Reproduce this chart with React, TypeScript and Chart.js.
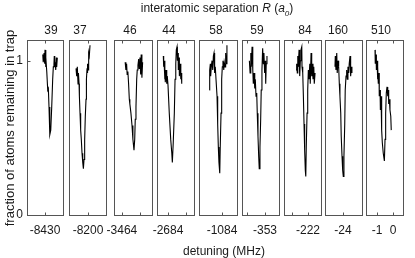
import React, { useEffect, useRef } from "react";
import { Chart, registerables } from "chart.js";

Chart.register(...registerables);

// ---------- DATA ----------
const separations = ["39", "37", "46", "44", "58", "59", "84", "160", "510"];
const centers = [-8430, -8200, -3464, -2684, -1084, -353, -222, -24, 0];
const tickOffsets = [[0], [0], [0, 1], [0, 1], [0], [-1, 0], [-1, 0], [0], [-1, 0]];
const tickLabels = [["-8430"], ["-8200"], ["-3464", ""], ["-2684", ""], ["-1084"], ["", "-353"], ["", "-222"], ["-24"], ["-1", "0"]];
const xMinOffsets = [-1.125, -1.19, -0.44, -0.61, -1.44, -1.28, -1.5, -1.125, -1.69];
const xMaxOffsets = [1.125, 1.125, 1.67, 1.44, 0.94, 0.78, 0.81, 1.19, 0.625];
const yTickValues = [0, 1];
const yMax = 1.134;

const trace39X = [-0.14, -0.11, -0.06, -0.02, 0.0, 0.04, 0.06, 0.11, 0.17, 0.21, 0.25, 0.29, 0.31, 0.36, 0.42, 0.48, 0.52, 0.56, 0.58, 0.61, 0.64, 0.67, 0.71, 0.73, 0.77];
const trace39Y = [1.04, 0.99, 1.05, 0.98, 1.07, 0.96, 1.02, 0.93, 0.81, 0.82, 0.7, 0.59, 0.52, 0.55, 0.7, 0.88, 0.96, 0.98, 1.03, 0.96, 0.99, 0.94, 1.02, 0.96, 1.02];

const trace37X = [-0.75, -0.71, -0.67, -0.625, -0.6, -0.56, -0.54, -0.5, -0.46, -0.42, -0.375, -0.33, -0.29, -0.25, -0.21, -0.17, -0.125, -0.1, -0.06, -0.04, -0.02, 0, 0.02, 0.04, 0.06, 0.08, 0.125];
const trace37Y = [0.95, 0.9, 0.96, 0.85, 0.92, 0.85, 0.77, 0.66, 0.55, 0.49, 0.4, 0.34, 0.3, 0.36, 0.49, 0.64, 0.75, 0.88, 0.95, 0.92, 0.98, 0.94, 1.02, 0.98, 1.05, 1.03, 1.1];

const trace46X = [0.18, 0.22, 0.26, 0.29, 0.33, 0.37, 0.41, 0.44, 0.5, 0.56, 0.61, 0.67, 0.71, 0.74, 0.78, 0.82, 0.85, 0.89, 0.93, 0.96, 1.0, 1.04, 1.07, 1.11, 1.15];
const trace46Y = [0.99, 0.94, 0.98, 0.91, 0.93, 0.85, 0.75, 0.72, 0.66, 0.58, 0.49, 0.42, 0.49, 0.62, 0.7, 0.88, 0.94, 0.97, 1.01, 0.95, 1.02, 0.91, 1.04, 0.89, 0.99];

const trace44X = [-0.26, -0.24, -0.22, -0.18, -0.17, -0.15, -0.11, -0.07, -0.04, 0, 0.07, 0.15, 0.21, 0.24, 0.29, 0.35, 0.39, 0.43, 0.46, 0.5, 0.52, 0.56, 0.57, 0.61, 0.63, 0.67, 0.71, 0.74, 0.76];
const trace44Y = [1.03, 0.96, 1.0, 0.88, 0.95, 0.86, 0.94, 0.85, 0.9, 0.84, 0.66, 0.49, 0.4, 0.34, 0.47, 0.66, 0.88, 0.98, 1.07, 1.09, 1.0, 1.05, 0.94, 1.02, 0.9, 0.98, 0.88, 0.92, 0.85];

const trace58X = [-0.79, -0.77, -0.73, -0.71, -0.67, -0.625, -0.58, -0.54, -0.5, -0.46, -0.42, -0.375, -0.31, -0.27, -0.23, -0.19, -0.14, -0.11, -0.06, -0.02, 0.02, 0.06, 0.11, 0.14, 0.19, 0.23, 0.27, 0.31];
const trace58Y = [0.81, 0.94, 0.98, 0.9, 0.96, 1.0, 0.94, 1.03, 1.05, 0.92, 0.96, 0.88, 0.77, 0.59, 0.44, 0.34, 0.27, 0.44, 0.66, 0.88, 0.96, 1.0, 0.94, 0.99, 0.96, 1.05, 0.98, 1.1];

const trace59X = [-0.87, -0.83, -0.79, -0.76, -0.72, -0.68, -0.65, -0.61, -0.57, -0.54, -0.5, -0.46, -0.43, -0.39, -0.35, -0.32, -0.28, -0.24, -0.21, -0.17, -0.13, -0.09, -0.06, -0.02, 0.02, 0.04, 0.07, 0.11];
const trace59Y = [1.0, 0.92, 1.05, 0.96, 1.09, 0.94, 0.85, 0.92, 0.82, 0.88, 0.77, 0.79, 0.66, 0.51, 0.38, 0.3, 0.44, 0.62, 0.81, 0.94, 1.08, 0.98, 1.05, 0.92, 1.0, 0.85, 0.98, 1.03];

const trace84X = [-0.75, -0.71, -0.67, -0.64, -0.61, -0.56, -0.52, -0.48, -0.44, -0.39, -0.375, -0.33, -0.29, -0.25, -0.21, -0.17, -0.14, -0.11, -0.06, -0.02, 0.02, 0.06, 0.11, 0.14, 0.19, 0.23, 0.27, 0.31, 0.36, 0.39, 0.44];
const trace84Y = [0.94, 0.98, 0.92, 1.03, 0.96, 1.07, 0.9, 1.0, 1.07, 1.09, 0.96, 0.92, 0.77, 0.59, 0.42, 0.29, 0.25, 0.44, 0.66, 0.81, 0.94, 0.88, 0.98, 0.85, 1.05, 0.9, 0.98, 0.88, 0.96, 0.85, 0.92];

const trace160X = [-0.5, -0.48, -0.44, -0.39, -0.36, -0.31, -0.27, -0.23, -0.19, -0.14, -0.11, -0.06, -0.02, 0.02, 0.06, 0.11, 0.14, 0.19, 0.23, 0.27, 0.31, 0.36, 0.39, 0.44, 0.48, 0.52, 0.56];
const trace160Y = [0.96, 1.03, 0.94, 1.05, 0.92, 1.0, 0.96, 0.85, 0.77, 0.66, 0.51, 0.38, 0.29, 0.25, 0.38, 0.59, 0.81, 0.9, 0.94, 0.88, 0.96, 0.92, 0.98, 1.03, 0.9, 0.96, 0.92];

const trace510X = [-1.125, -1.11, -1.06, -1.04, -1.0, -0.98, -0.94, -0.92, -0.875, -0.86, -0.81, -0.79, -0.75, -0.71, -0.67, -0.61, -0.54, -0.5, -0.46, -0.42, -0.375, -0.33, -0.29, -0.27, -0.23, -0.19, -0.14, -0.11];
const trace510Y = [1.07, 0.98, 1.04, 0.94, 1.0, 0.88, 0.96, 0.85, 0.92, 0.77, 0.81, 0.68, 0.77, 0.55, 0.47, 0.4, 0.35, 0.49, 0.66, 0.79, 0.83, 0.77, 0.81, 0.72, 0.75, 0.68, 0.64, 0.55];

const tracesX = [trace39X, trace37X, trace46X, trace44X, trace58X, trace59X, trace84X, trace160X, trace510X];
const tracesY = [trace39Y, trace37Y, trace46Y, trace44Y, trace58Y, trace59Y, trace84Y, trace160Y, trace510Y];

// ---------- LAYOUT ----------
const W = 415;
const H = 258;
const PAD = 24;
const TOP = 40;
const BOTTOM_AXIS = 43;
const BOX_LEFT = [27, 69, 114, 157, 199, 242, 284, 325, 366];
const BOX_RIGHT = [63, 106, 152, 194, 237, 279, 321, 362, 403];
const TOP_LABEL_X = [51, 80, 130, 169, 216, 257, 305, 338, 381];
const FONT = "'Liberation Sans', Arial, Helvetica, sans-serif";
const TEXT = "#1a1a1a";
const FRAME = "#555555";

const framePlugin = {
  id: "frame",
  afterDraw(chart: any, _args: any, opts: any) {
    const { ctx, chartArea: a, scales } = chart;
    ctx.save();
    ctx.strokeStyle = FRAME;
    ctx.lineWidth = 1;
    const l = Math.round(a.left) + 0.5;
    const t = Math.round(a.top) + 0.5;
    const r = Math.round(a.right) + 0.5;
    const b = Math.round(a.bottom) + 0.5;
    ctx.strokeRect(l, t, r - l, b - t);
    ctx.beginPath();
    for (const tk of scales.x.ticks) {
      const px = Math.round(scales.x.getPixelForValue(tk.value)) + 0.5;
      ctx.moveTo(px, b);
      ctx.lineTo(px, b - 3);
      ctx.moveTo(px, t);
      ctx.lineTo(px, t + 3);
    }
    if (opts && opts.yTicks) {
      for (const tk of scales.y.ticks) {
        const py = Math.round(scales.y.getPixelForValue(tk.value)) + 0.5;
        ctx.moveTo(l, py);
        ctx.lineTo(l + 3, py);
      }
    }
    ctx.stroke();
    ctx.restore();
  },
};

function Panel({ i }: { i: number }) {
  const ref = useRef<HTMLCanvasElement>(null);
  const cw = BOX_RIGHT[i] - BOX_LEFT[i] + 2 * PAD;
  useEffect(() => {
    const canvas = ref.current;
    if (!canvas) return;
    const c = centers[i];
    const pts = tracesX[i].map((x, k) => ({ x: c + x, y: tracesY[i][k] }));
    const chart = new Chart(canvas, {
      type: "line",
      data: {
        datasets: [
          {
            data: pts,
            borderColor: "#000000",
            borderWidth: 1.1,
            pointRadius: 0,
            tension: 0,
            fill: false,
          },
        ],
      },
      options: {
        animation: false,
        responsive: false,
        events: [],
        layout: { padding: { left: 0, right: PAD, top: TOP, bottom: 0 } },
        plugins: {
          legend: { display: false },
          tooltip: { enabled: false },
          frame: { yTicks: i === 0 },
        } as any,
        scales: {
          x: {
            type: "linear",
            min: c + xMinOffsets[i],
            max: c + xMaxOffsets[i],
            afterBuildTicks: (s: any) => {
              s.ticks = tickOffsets[i].map((o) => ({ value: c + o }));
            },
            afterFit: (s: any) => {
              s.height = BOTTOM_AXIS;
            },
            grid: { display: false, drawTicks: false },
            border: { display: false },
            ticks: {
              autoSkip: false,
              maxRotation: 0,
              minRotation: 0,
              padding: 8,
              color: TEXT,
              font: { family: FONT, size: 12 },
              callback: (_v: any, idx: number) => tickLabels[i][idx],
            },
          },
          y: {
            type: "linear",
            min: 0,
            max: yMax,
            afterBuildTicks: (s: any) => {
              s.ticks = yTickValues.map((v) => ({ value: v }));
            },
            afterFit: (s: any) => {
              s.width = PAD;
            },
            grid: { display: false, drawTicks: false },
            border: { display: false },
            ticks: {
              display: i === 0,
              padding: 4,
              color: TEXT,
              font: { family: FONT, size: 12 },
            },
          },
        },
      },
      plugins: [framePlugin as any],
    });
    return () => chart.destroy();
  }, [i]);
  return (
    <canvas
      ref={ref}
      width={cw}
      height={H}
      style={{ position: "absolute", left: BOX_LEFT[i] - PAD, top: 0, width: cw, height: H }}
    />
  );
}

export default function App() {
  const textBase: React.CSSProperties = {
    position: "absolute",
    fontFamily: FONT,
    fontSize: 12,
    color: TEXT,
    whiteSpace: "nowrap",
    lineHeight: 1,
  };
  return (
    <div style={{ position: "absolute", left: 0, top: 0, width: W, height: H, background: "#ffffff", overflow: "hidden" }}>
      {separations.map((_, i) => (
        <Panel key={i} i={i} />
      ))}
      <div style={{ ...textBase, left: 217, top: 10, transform: "translate(-50%, -50%)" }}>
        interatomic separation <i>R</i> (<i>a</i>
        <sub style={{ fontSize: 8 }}>
          <i>0</i>
        </sub>
        )
      </div>
      {separations.map((s, i) => (
        <div key={s} style={{ ...textBase, left: TOP_LABEL_X[i], top: 30, transform: "translate(-50%, -50%)" }}>
          {s}
        </div>
      ))}
      <div style={{ ...textBase, left: 224, top: 251, transform: "translate(-50%, -50%)" }}>detuning (MHz)</div>
      <div
        style={{
          ...textBase,
          fontSize: 13,
          left: 9,
          top: 128,
          transform: "translate(-50%, -50%) rotate(-90deg)",
        }}
      >
        fraction of atoms remaining in trap
      </div>
    </div>
  );
}
